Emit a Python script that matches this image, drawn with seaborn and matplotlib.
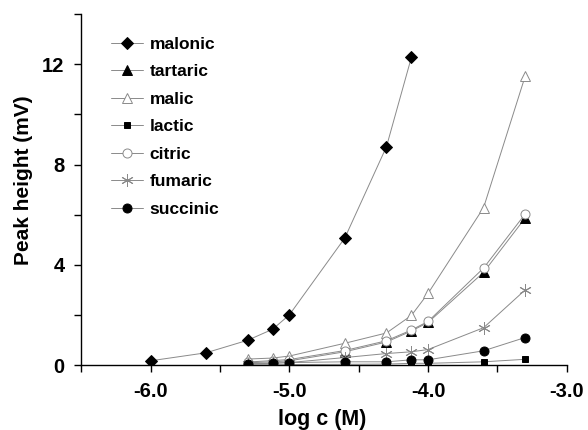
import numpy as np
import pandas as pd
import matplotlib
matplotlib.use('Agg')
import matplotlib.pyplot as plt
import seaborn as sns

# log concentrations
x_malonic = [-6.0, -5.6, -5.3, -5.12, -5.0, -4.6, -4.3, -4.12]
x_other = [-5.3, -5.12, -5.0, -4.6, -4.3, -4.12, -4.0, -3.6, -3.3]

malonic = [0.17, 0.49, 0.99, 1.43, 2.0, 5.07, 8.71, 12.28]
tartaric = [0.09, 0.13, 0.17, 0.53, 0.92, 1.36, 1.70, 3.70, 5.87]
malic = [0.24, 0.28, 0.36, 0.87, 1.28, 1.98, 2.86, 6.28, 11.53]
lactic = [0.01, 0.01, 0.02, 0.03, 0.04, 0.07, 0.07, 0.13, 0.23]
citric = [0.12, 0.18, 0.22, 0.58, 0.97, 1.40, 1.74, 3.87, 6.03]
fumaric = [0.05, 0.08, 0.10, 0.30, 0.46, 0.53, 0.62, 1.49, 3.0]
succinic = [0.05, 0.07, 0.10, 0.13, 0.13, 0.21, 0.21, 0.57, 1.10]

sns.set_style('ticks')
plt.rcParams['font.family'] = ['Liberation Sans', 'DejaVu Sans']
plt.rcParams['font.weight'] = 'bold'
plt.rcParams['text.color'] = 'black'
plt.rcParams['axes.labelcolor'] = 'black'
plt.rcParams['xtick.color'] = 'black'
plt.rcParams['ytick.color'] = 'black'

fig = plt.figure(figsize=(5.88, 4.30), dpi=100)
ax = fig.add_axes([0.138, 0.151, 0.826, 0.816])

line_col = '#8a8a8a'
series = [
    ('malonic', x_malonic, malonic, 'D', 'black', 'black', 6),
    ('tartaric', x_other, tartaric, '^', 'black', 'black', 6.5),
    ('malic', x_other, malic, '^', 'white', line_col, 7),
    ('lactic', x_other, lactic, 's', 'black', 'black', 4.5),
    ('citric', x_other, citric, 'o', 'white', line_col, 6.5),
    ('fumaric', x_other, fumaric, (6, 2, 0), line_col, line_col, 9),
    ('succinic', x_other, succinic, 'o', 'black', 'black', 6.5),
]

for name, xs, ys, mk, fc, ec, ms in series:
    sns.lineplot(x=xs, y=ys, ax=ax, color=line_col, linewidth=0.7,
                 marker=mk, markersize=ms, markerfacecolor=fc,
                 markeredgecolor=ec, markeredgewidth=0.7, label=name)

ax.set_xlim(-6.5, -3.0)
ax.set_ylim(0, 14)
xt = np.arange(-6.5, -2.99, 0.5)
ax.set_xticks(xt)
ax.set_xticklabels(['%.1f' % v if abs(v - round(v)) < 1e-6 else '' for v in xt])
yt = np.arange(0, 14.1, 2)
ax.set_yticks(yt)
ax.set_yticklabels(['%d' % v if v % 4 == 0 and v < 14 else '' for v in yt])
ax.tick_params(axis='both', labelsize=14.5, length=5, width=1, color='black',
               labelcolor='black')
ax.tick_params(axis='x', pad=7.5)
ax.tick_params(axis='y', pad=7)
for lab in ax.get_xticklabels() + ax.get_yticklabels():
    lab.set_fontweight('bold')
ax.set_xlabel('log c (M)', fontsize=15.5, fontweight='bold')
ax.set_ylabel('Peak height (mV)', fontsize=15, fontweight='bold')
ax.xaxis.set_label_coords(0.497, -0.126)
ax.yaxis.set_label_coords(-0.10, 0.527)
sns.despine(ax=ax)
for s in ['left', 'bottom']:
    ax.spines[s].set_color('black')
    ax.spines[s].set_linewidth(1)

leg = ax.legend(loc='upper left', frameon=False, fontsize=12.5, handlelength=1.8,
                labelspacing=0.71, bbox_to_anchor=(0.03, 0.98), handletextpad=0.4)
for t in leg.get_texts():
    t.set_fontweight('bold')
    t.set_color('black')

fig.savefig('out.png', dpi=100)
